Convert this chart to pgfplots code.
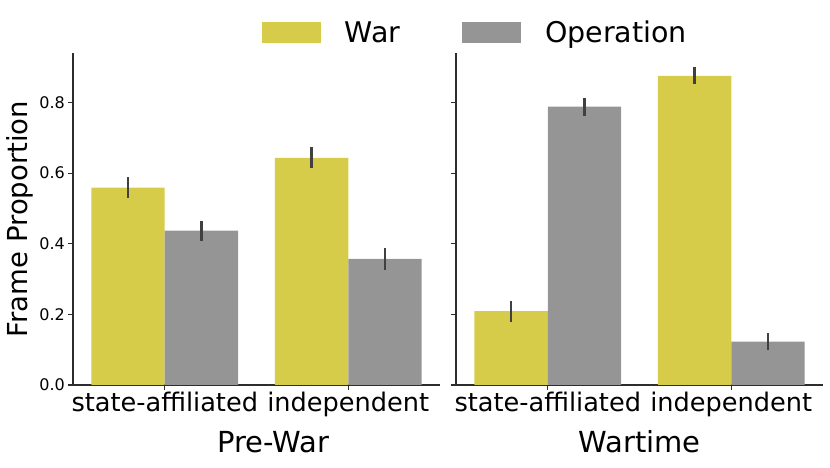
\documentclass[border=0pt]{standalone}
\usepackage{fontspec}
\setmainfont{DejaVu Sans}
\usepackage{pgfplots}
\pgfplotsset{compat=1.18}

\definecolor{warc}{RGB}{214,204,74}
\definecolor{opc}{RGB}{149,149,149}
\definecolor{errc}{RGB}{64,64,64}
\definecolor{spine}{RGB}{45,45,45}

\pgfplotsset{
  panel/.style={
    scale only axis, width=367pt, height=332pt,
    xmin=-0.5, xmax=1.5, ymin=0, ymax=0.94,
    axis lines*=left,
    axis line style={spine, line width=1.1pt},
    tick align=outside, major tick length=5pt,
    tick style={spine, line width=1.1pt},
    xtick={0,1}, xticklabels={state-affiliated, independent},
    ytick={0,0.2,0.4,0.6,0.8},
    x tick label style={font=\fontsize{25.6}{30}\selectfont, anchor=base, inner sep=0pt, yshift=-22pt},
    y tick label style={font=\fontsize{16}{19}\selectfont, anchor=east, inner sep=0pt, xshift=-3pt},
    /pgf/number format/assume math mode=true,
    yticklabel style={/pgf/number format/fixed, /pgf/number format/fixed zerofill, /pgf/number format/precision=1},
    xlabel style={font=\fontsize{29}{34}\selectfont, anchor=base, inner sep=0pt, yshift=-68pt},
    clip=false,
  },
  warbar/.style={ybar, bar width=0.4, bar shift=-0.2, fill=warc, draw=none},
  opbar/.style={ybar, bar width=0.4, bar shift=0.2, fill=opc, draw=none},
  ci/.style={draw=none, mark=none, forget plot,
    error bars/.cd, y dir=both, y explicit, error mark=none,
    error bar style={errc, line width=2.7pt}},
}

\begin{document}
\begin{tikzpicture}
\begin{axis}[panel, name=L,
    xlabel={Pre-War},
    xlabel style={at={(axis description cs:0.545,0)}},
    ylabel={Frame Proportion},
    ylabel style={font=\fontsize{27.5}{32}\selectfont, at={(axis description cs:-0.145,0.5)}, anchor=center},
    legend columns=2,
    legend style={draw=none, fill=none, inner sep=0pt, outer sep=0pt,
      at={(axis description cs:0.514,1.094)}, anchor=north west,
      font=\fontsize{28.5}{33}\selectfont,
      nodes={inner sep=0pt, text height=21pt, text depth=0pt},
      /tikz/every odd column/.append style={column sep=24pt},
      /tikz/every even column/.append style={column sep=62pt}},
    legend image code/.code={\fill[#1] (0pt,-10.5pt) rectangle (59pt,10.5pt);},
  ]
  % bars: War / Operation
  \addplot[warbar] coordinates {(0,0.559) (1,0.643)};
  \addplot[opbar] coordinates {(0,0.437) (1,0.357)};
  \legend{War, Operation}
  % confidence intervals at the bar centres
  \addplot[ci] coordinates {(-0.2,0.559) +- (0,0.029) (0.8,0.643) +- (0,0.030)};
  \addplot[ci] coordinates {(0.2,0.437) +- (0,0.028) (1.2,0.357) +- (0,0.030)};
\end{axis}
\begin{axis}[panel, at={(383pt,0pt)},
    xlabel={Wartime},
    xlabel style={at={(axis description cs:0.5,0)}},
    yticklabels={},
  ]
  \addplot[warbar] coordinates {(0,0.209) (1,0.875)};
  \addplot[opbar] coordinates {(0,0.788) (1,0.123)};
  \addplot[ci] coordinates {(-0.2,0.209) +- (0,0.030) (0.8,0.875) +- (0,0.024)};
  \addplot[ci] coordinates {(0.2,0.788) +- (0,0.026) (1.2,0.123) +- (0,0.024)};
\end{axis}
\pgfresetboundingbox
\path[use as bounding box] (-73pt,-83pt) rectangle (757pt,385pt);
\end{tikzpicture}
\end{document}
